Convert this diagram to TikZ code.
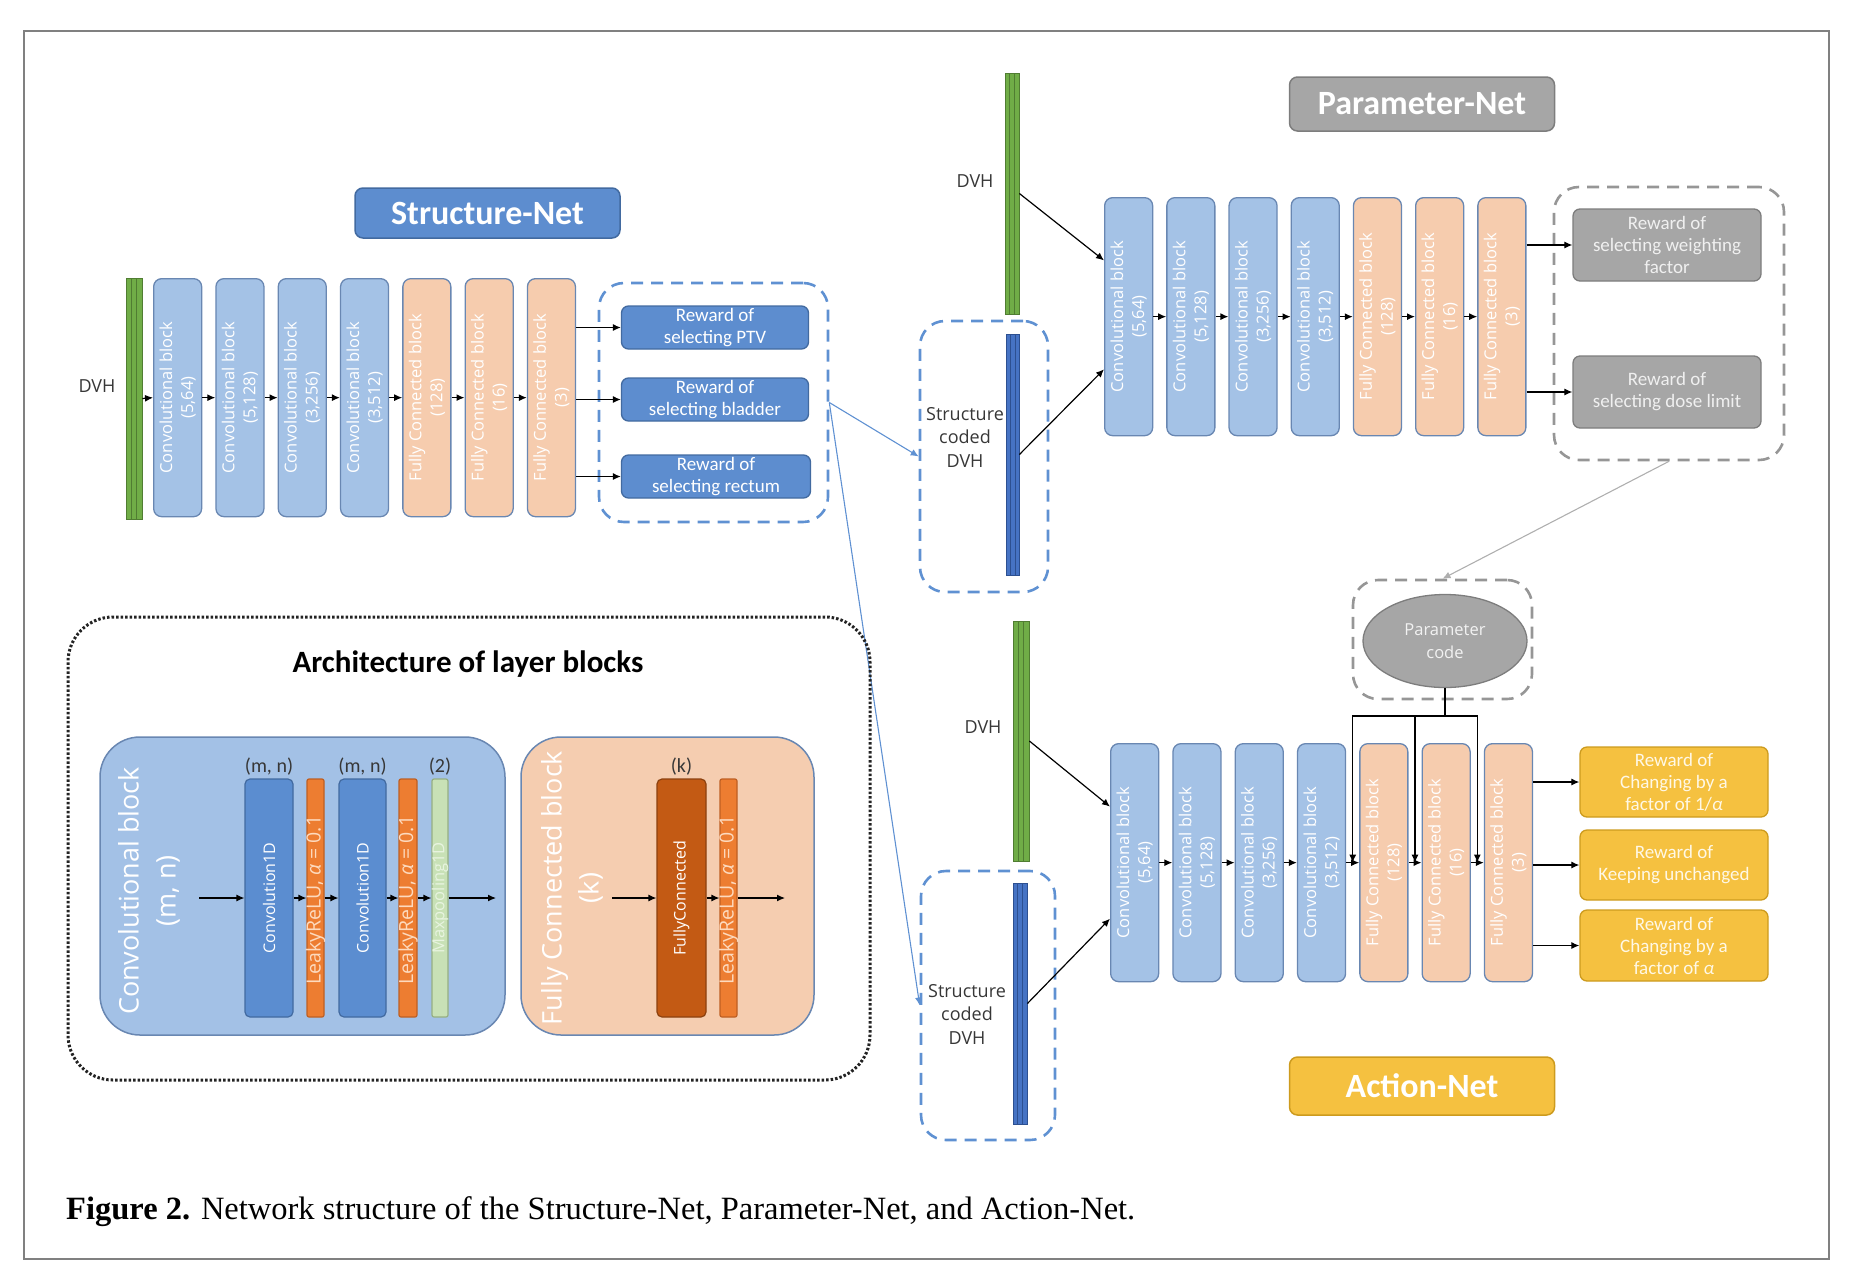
\documentclass[tikz,border=0pt]{standalone}
\usepackage{fontspec}
\setmainfont{Liberation Serif}
\newfontfamily\osfont{Open Sans}
\newfontfamily\calfont{Carlito}
\usetikzlibrary{arrows.meta,calc,shapes.geometric}
\definecolor{convfill}{RGB}{164,194,230}
\definecolor{convdraw}{RGB}{105,135,178}
\definecolor{fcfill}{RGB}{246,204,174}
\definecolor{bluebox}{RGB}{93,141,207}
\definecolor{blueboxd}{RGB}{66,106,160}
\definecolor{grayfill}{RGB}{166,166,166}
\definecolor{graydraw}{RGB}{125,125,125}
\definecolor{yelfill}{RGB}{245,193,64}
\definecolor{yeldraw}{RGB}{205,155,30}
\definecolor{barg}{RGB}{112,173,71}
\definecolor{bargd}{RGB}{80,125,50}
\definecolor{barb}{RGB}{70,115,196}
\definecolor{barbd}{RGB}{45,80,145}
\definecolor{dashblue}{RGB}{95,145,210}
\definecolor{dashgray}{RGB}{150,150,150}
\definecolor{convdark}{RGB}{91,141,208}
\definecolor{leaky}{RGB}{237,125,49}
\definecolor{leakyd}{RGB}{190,95,35}
\definecolor{maxp}{RGB}{200,225,182}
\definecolor{maxpd}{RGB}{150,175,130}
\definecolor{fcdark}{RGB}{195,90,20}
\definecolor{fcdarkd}{RGB}{140,65,15}
\definecolor{bigconv}{RGB}{163,193,230}
\definecolor{bigfc}{RGB}{245,205,176}
\definecolor{labgray}{RGB}{55,55,55}
\definecolor{framegray}{RGB}{128,128,128}
\newcommand\blkn[4]{\node[#2] (#1) at (#3) {};\node[btext] (#1t) at (#1.center) {#4};}
\begin{document}
\begin{tikzpicture}[x=1pt,y=-1pt,
  blk/.style={draw=convdraw, line width=1.3pt, rounded corners=8pt, minimum width=48pt, minimum height=238pt, inner sep=0pt, anchor=north west},
  conv/.style={blk, fill=convfill},
  fc/.style={blk, fill=fcfill},
  btext/.style={rotate=90, text=white, align=center, inner sep=0pt, font=\osfont\fontsize{16.5}{21}\selectfont},
  arr/.style={-{Latex[length=8pt,width=7pt]}, line width=1.2pt, black},
  rew/.style={rounded corners=7pt, line width=1.3pt, align=center, inner sep=0pt, minimum width=187pt, font=\calfont\fontsize{19}{22}\selectfont},
  rewb/.style={rew, fill=bluebox, draw=blueboxd, text=white},
  rewg/.style={rew, fill=grayfill, draw=graydraw, text={rgb,255:red,240;green,240;blue,240}},
  rewy/.style={rew, fill=yelfill, draw=yeldraw, text={rgb,255:red,255;green,248;blue,230}},
  ttl/.style={rounded corners=8pt, line width=1.5pt, text=white, inner sep=0pt, minimum width=265pt, font=\calfont\bfseries\fontsize{34}{40}\selectfont},
  dbox/.style={dash pattern=on 12pt off 8pt, line width=2.6pt, rounded corners=25pt, inner sep=0pt},
  bar/.style={line width=0.8pt, inner sep=0pt, minimum height=241pt},
  gbar/.style={bar, fill=barg, draw=bargd, path picture={
     \draw[bargd,line width=0.8pt] ([xshift=-2.5pt]path picture bounding box.north) -- ([xshift=-2.5pt]path picture bounding box.south);
     \draw[bargd,line width=0.8pt] ([xshift=2.5pt]path picture bounding box.north) -- ([xshift=2.5pt]path picture bounding box.south);}},
  bbar/.style={bar, fill=barb, draw=barbd, path picture={
     \draw[barbd,line width=0.8pt] ([xshift=-2.5pt]path picture bounding box.north) -- ([xshift=-2.5pt]path picture bounding box.south);
     \draw[barbd,line width=0.8pt] ([xshift=2.5pt]path picture bounding box.north) -- ([xshift=2.5pt]path picture bounding box.south);}},
  dvh/.style={text=labgray, align=center, inner sep=0pt, font=\osfont\fontsize{18}{23.5}\selectfont},
  inner/.style={rounded corners=5pt, line width=1.2pt, inner sep=0pt, minimum height=238pt},
  itext/.style={rotate=90, inner sep=0pt, font=\osfont\fontsize{16}{20}\selectfont},
  ltext/.style={rotate=90, inner sep=0pt, font=\osfont\fontsize{19.5}{22}\selectfont},
  mtext/.style={rotate=90, inner sep=0pt, font=\osfont\fontsize{16.5}{20}\selectfont},
  lab/.style={text=labgray, inner sep=0pt, anchor=south, font=\calfont\fontsize{20}{24}\selectfont}
]
\useasboundingbox (0,0) rectangle (1850,1280);
\node[draw=framegray, line width=2pt, minimum width=1805pt, minimum height=1228pt, inner sep=0pt] (frame) at (926.5,645) {};

% ---------------- Structure-Net ----------------
\node[ttl, fill=bluebox, draw=blueboxd, minimum height=50pt] (stitle) at (487.5,213) {Structure-Net};
\node[dvh] (sdvh) at (97,386) {DVH};
\node[gbar, minimum width=16pt] (sbar) at (134,398.5) {};
\blkn{s1}{conv}{153,278}{Convolutional block\\(5,64)}
\blkn{s2}{conv}{215.3,278}{Convolutional block\\(5,128)}
\blkn{s3}{conv}{277.6,278}{Convolutional block\\(3,256)}
\blkn{s4}{conv}{339.9,278}{Convolutional block\\(3,512)}
\blkn{s5}{fc}{402.2,278}{Fully Connected block\\(128)}
\blkn{s6}{fc}{464.5,278}{Fully Connected block\\(16)}
\blkn{s7}{fc}{526.8,278}{Fully Connected block\\(3)}
\draw[arr] (sbar.east) -- (s1.west);
\draw[arr] (s1.east) -- (s2.west);
\draw[arr] (s2.east) -- (s3.west);
\draw[arr] (s3.east) -- (s4.west);
\draw[arr] (s4.east) -- (s5.west);
\draw[arr] (s5.east) -- (s6.west);
\draw[arr] (s6.east) -- (s7.west);
\node[dbox, draw=dashblue, minimum width=229pt, minimum height=239pt] (sdash) at (713.5,402.5) {};
\node[rewb, minimum height=43pt] (sr1) at (715,327.5) {Reward of\\selecting PTV};
\node[rewb, minimum height=43pt] (sr2) at (715,399.5) {Reward of\\selecting bladder};
\node[rewb, minimum height=43pt, minimum width=189pt] (sr3) at (716,476.5) {Reward of\\selecting rectum};
\draw[arr] (s7.east |- sr1.west) -- (sr1.west);
\draw[arr] (s7.east |- sr2.west) -- (sr2.west);
\draw[arr] (s7.east |- sr3.west) -- (sr3.west);

% ---------------- middle inputs ----------------
\node[dvh] (pdvh) at (975,181) {DVH};
\node[gbar, minimum width=14pt] (pg) at (1012,193.5) {};
\node[dbox, draw=dashblue, minimum width=128pt, minimum height=271pt] (mdash) at (984,456.5) {};
\node[bbar, minimum width=13pt] (pb) at (1012.5,454.5) {};
\node[dvh] (mtext) at (965,437) {Structure\\coded\\DVH};

\node[dvh] (advh) at (983,727) {DVH};
\node[gbar, minimum width=16pt, minimum height=240pt] (ag) at (1021,741) {};
\node[dbox, draw=dashblue, minimum width=134pt, minimum height=269pt] (ldash) at (988,1005.5) {};
\node[bbar, minimum width=14pt] (ab) at (1020,1003.5) {};
\node[dvh] (ltext) at (967,1014) {Structure\\coded\\DVH};

\draw[-{Latex[length=8pt,width=7pt]}, dashblue, line width=1.1pt] (sdash.east) -- (mdash.west);
\draw[-{Latex[length=8pt,width=7pt]}, dashblue, line width=1.1pt] (sdash.east) -- (ldash.west);

% ---------------- Parameter-Net ----------------
\node[ttl, fill=grayfill, draw=graydraw, minimum height=54pt] (ptitle) at (1422,104) {Parameter-Net};
\blkn{p1}{conv}{1104,197}{Convolutional block\\(5,64)}
\blkn{p2}{conv}{1166.2,197}{Convolutional block\\(5,128)}
\blkn{p3}{conv}{1228.4,197}{Convolutional block\\(3,256)}
\blkn{p4}{conv}{1290.6,197}{Convolutional block\\(3,512)}
\blkn{p5}{fc}{1352.8,197}{Fully Connected block\\(128)}
\blkn{p6}{fc}{1415,197}{Fully Connected block\\(16)}
\blkn{p7}{fc}{1477.2,197}{Fully Connected block\\(3)}
\draw[arr] (pg.east) -- ($(p1.north west)!0.265!(p1.south west)$);
\draw[arr] (pb.east) -- ($(p1.north west)!0.72!(p1.south west)$);
\draw[arr] (p1.east) -- (p2.west);
\draw[arr] (p2.east) -- (p3.west);
\draw[arr] (p3.east) -- (p4.west);
\draw[arr] (p4.east) -- (p5.west);
\draw[arr] (p5.east) -- (p6.west);
\draw[arr] (p6.east) -- (p7.west);
\node[dbox, draw=dashgray, minimum width=230pt, minimum height=273pt] (pdash) at (1669,323.5) {};
\node[rewg, minimum height=72pt, minimum width=188pt] (pr1) at (1667,245) {Reward of\\selecting weighting\\factor};
\node[rewg, minimum height=72pt, minimum width=188pt] (pr2) at (1667,392) {Reward of\\selecting dose limit};
\draw[arr] (p7.east |- pr1.west) -- (pr1.west);
\draw[arr] (p7.east |- pr2.west) -- (pr2.west);

% ---------------- Parameter code ----------------
\node[dbox, draw=dashgray, minimum width=179pt, minimum height=119pt] (pcdash) at (1442.5,639.5) {};
\node[ellipse, fill=grayfill, draw=graydraw, line width=1.3pt, minimum width=164pt, minimum height=93pt, inner sep=0pt, align=center, text={rgb,255:red,242;green,242;blue,242}, font=\osfont\fontsize{16.5}{23}\selectfont] (pc) at (1445,641) {Parameter\\code};
\draw[-{Latex[length=8pt,width=7pt]}, color={rgb,255:red,175;green,175;blue,175}, line width=1.1pt] (pdash.south) -- (pcdash.north);

% ---------------- Action-Net ----------------
\blkn{a1}{conv}{1110,743}{Convolutional block\\(5,64)}
\blkn{a2}{conv}{1172.3,743}{Convolutional block\\(5,128)}
\blkn{a3}{conv}{1234.6,743}{Convolutional block\\(3,256)}
\blkn{a4}{conv}{1296.9,743}{Convolutional block\\(3,512)}
\blkn{a5}{fc}{1359.2,743}{Fully Connected block\\(128)}
\blkn{a6}{fc}{1421.5,743}{Fully Connected block\\(16)}
\blkn{a7}{fc}{1483.8,743}{Fully Connected block\\(3)}
\draw[arr] (ag.east) -- ($(a1.north west)!0.266!(a1.south west)$);
\draw[arr] (ab.east) -- ($(a1.north west)!0.734!(a1.south west)$);
\draw[arr] (a1.east) -- (a2.west);
\draw[arr] (a2.east) -- (a3.west);
\draw[arr] (a3.east) -- (a4.west);
\draw[arr] (a4.east) -- (a5.west);
\draw[arr] (a5.east) -- (a6.west);
\draw[arr] (a6.east) -- (a7.west);
\coordinate (pj) at (1445,716);
\coordinate (g45) at ($(a4.east)!0.5!(a5.west)$);
\coordinate (g56) at ($(a5.east)!0.5!(a6.west)$);
\coordinate (g67) at ($(a6.east)!0.5!(a7.west)$);
\draw[line width=1.2pt] (pc.south) -- (pj);
\draw[arr] (pj) -| (g45);
\draw[arr] (pj) -| (g56);
\draw[arr] (pj) -| (g67);
\node[rewy, minimum height=70pt, minimum width=188pt] (ar1) at (1674,782) {Reward of\\Changing by a\\factor of 1/{\itshape α}};
\node[rewy, minimum height=70pt, minimum width=188pt] (ar2) at (1674,865) {Reward of\\Keeping unchanged};
\node[rewy, minimum height=71pt, minimum width=188pt] (ar3) at (1674,945.5) {Reward of\\Changing by a\\factor of {\itshape α}};
\draw[arr] (a7.east |- ar1.west) -- (ar1.west);
\draw[arr] (a7.east |- ar2.west) -- (ar2.west);
\draw[arr] (a7.east |- ar3.west) -- (ar3.west);
\node[ttl, fill=yelfill, draw=yeldraw, minimum height=58pt] (atitle) at (1422,1086) {Action-Net};

% ---------------- Architecture of layer blocks ----------------
\node[draw={rgb,255:red,35;green,35;blue,35}, dash pattern=on 2.5pt off 2pt, line width=3pt, rounded corners=45pt, minimum width=802pt, minimum height=463pt, inner sep=0pt] (arch) at (469,848.5) {};
\node[inner sep=0pt, font=\calfont\bfseries\fontsize{31}{36}\selectfont] (archt) at (468,664) {Architecture of layer blocks};
\node[fill=bigconv, draw=convdraw, line width=1.5pt, rounded corners=40pt, minimum width=405pt, minimum height=298pt, inner sep=0pt] (bconv) at (302.5,886) {};
\node[fill=bigfc, draw=convdraw, line width=1.5pt, rounded corners=40pt, minimum width=293pt, minimum height=298pt, inner sep=0pt] (bfc) at (667.5,886) {};
\node[rotate=90, text=white, align=center, inner sep=0pt, font=\osfont\fontsize{27}{37}\selectfont] (bconvt) at (149,891) {Convolutional block\\(m, n)};
\node[rotate=90, text=white, align=center, inner sep=0pt, font=\osfont\fontsize{27}{37}\selectfont] (bfct) at (572,888) {Fully Connected block\\(k)};

\node[inner, fill=convdark, draw=blueboxd, minimum width=48pt] (c1) at (269,898) {};
\node[itext, text=white] (c1t) at (c1.center) {Convolution1D};
\node[inner, rounded corners=2pt, fill=leaky, draw=leakyd, minimum width=17pt] (l1) at (315.5,898) {};
\node[ltext, text={rgb,255:red,253;green,218;blue,190}] (l1t) at ([yshift=-2pt]l1.center) {LeakyReLU, {\itshape α} = 0.1};
\node[inner, fill=convdark, draw=blueboxd, minimum width=47pt] (c2) at (362.5,898) {};
\node[itext, text=white] (c2t) at (c2.center) {Convolution1D};
\node[inner, rounded corners=2pt, fill=leaky, draw=leakyd, minimum width=18pt] (l2) at (408,898) {};
\node[ltext, text={rgb,255:red,253;green,218;blue,190}] (l2t) at ([yshift=-2pt]l2.center) {LeakyReLU, {\itshape α} = 0.1};
\node[inner, rounded corners=2pt, fill=maxp, draw=maxpd, minimum width=16pt] (mp) at (440,898) {};
\node[mtext, text={rgb,255:red,232;green,244;blue,224}] (mpt) at (mp.center) {Maxpooling1D};
\node[lab] (c1l) at ([yshift=3pt]c1.north) {(m, n)};
\node[lab] (c2l) at ([yshift=3pt]c2.north) {(m, n)};
\node[lab] (mpl) at ([yshift=3pt]mp.north) {(2)};
\coordinate (ain) at (199,898);
\coordinate (aout) at (496,898);
\draw[arr] (ain) -- (c1.west);
\draw[arr] (c1.east) -- (l1.west);
\draw[arr] (l1.east) -- (c2.west);
\draw[arr] (c2.east) -- (l2.west);
\draw[arr] (l2.east) -- (mp.west);
\draw[arr] (mp.east) -- (aout);

\node[inner, fill=fcdark, draw=fcdarkd, minimum width=49pt] (fcd) at (681.5,898) {};
\node[itext, text=white] (fcdt) at (fcd.center) {FullyConnected};
\node[inner, rounded corners=2pt, fill=leaky, draw=leakyd, minimum width=17pt] (l3) at (728.5,898) {};
\node[ltext, text={rgb,255:red,253;green,218;blue,190}] (l3t) at ([yshift=-2pt]l3.center) {LeakyReLU, {\itshape α} = 0.1};
\node[lab] (fcl) at ([yshift=3pt]fcd.north) {(k)};
\coordinate (fin) at (612,898);
\coordinate (fout) at (785,898);
\draw[arr] (fin) -- (fcd.west);
\draw[arr] (fcd.east) -- (l3.west);
\draw[arr] (l3.east) -- (fout);

% ---------------- caption ----------------
\node[anchor=base west, inner sep=0pt, font=\fontsize{32.5}{36}\selectfont] (cap) at (66,1219) {\textbf{Figure 2.} Network structure of the Structure-Net, Parameter-Net, and Action-Net.};
\end{tikzpicture}
\end{document}
